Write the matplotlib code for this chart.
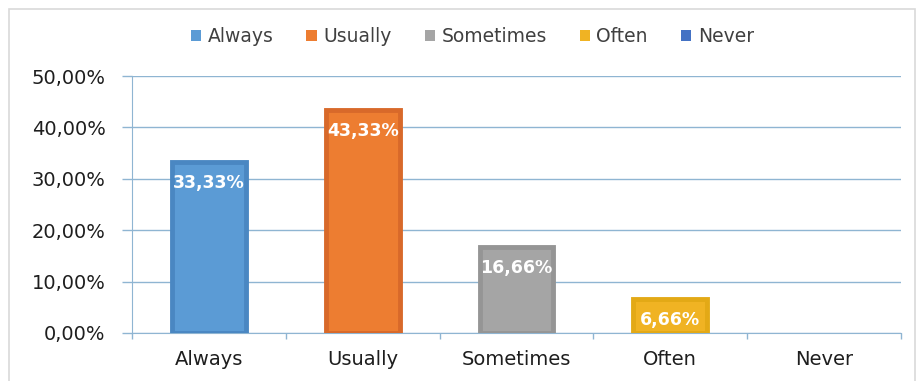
import matplotlib.pyplot as plt
from matplotlib.patches import Patch, Rectangle
from matplotlib.ticker import FixedLocator

# data
categories = ['Always', 'Usually', 'Sometimes', 'Often', 'Never']
values = [33.33, 43.33, 16.66, 6.66, 0.0]
labels = ['33,33%', '43,33%', '16,66%', '6,66%', '']
yticks = [0, 10, 20, 30, 40, 50]
ytick_labels = ['0,00%', '10,00%', '20,00%', '30,00%', '40,00%', '50,00%']

face_colors = ['#5b9bd5', '#ed7d31', '#a5a5a5', '#f0b323', '#4472c4']
edge_colors = ['#4a87c2', '#d8692a', '#959595', '#e3a916', '#3a62ad']
grid_color = '#8fb5d2'

plt.rcParams['font.family'] = ['DejaVu Sans']

fig = plt.figure(figsize=(9.19, 3.81), dpi=100)
ax = fig.add_axes([0.1436, 0.126, 0.9804 - 0.1436, 0.8005 - 0.126])

x = range(len(categories))
bars = ax.bar(x, values, width=0.48, color=face_colors, edgecolor=edge_colors,
              linewidth=3.5, zorder=3)

for b, v, lab in zip(bars, values, labels):
    if v == 0:
        b.set_linewidth(0)
    if lab:
        ax.text(b.get_x() + b.get_width() / 2, b.get_height() - 4.1, lab,
                ha='center', va='center', color='white', fontsize=12.5,
                fontweight='bold', zorder=4)

ax.set_xlim(-0.5, len(categories) - 0.5)
ax.set_ylim(0, 50)
ax.set_yticks(yticks)
ax.set_yticklabels(ytick_labels)
ax.set_xticks(list(x))
ax.set_xticklabels(categories)
ax.xaxis.set_minor_locator(FixedLocator([i - 0.5 for i in range(len(categories) + 1)]))

ax.tick_params(axis='y', length=7, width=1, color=grid_color, pad=12,
               labelsize=14, labelcolor='#1e1e1e')
ax.tick_params(axis='x', which='major', length=0, pad=12, labelsize=14,
               labelcolor='#1e1e1e')
ax.tick_params(axis='x', which='minor', length=4, width=1, color=grid_color)

ax.grid(axis='y', color=grid_color, linewidth=1, zorder=0)
for s in ['top', 'right']:
    ax.spines[s].set_visible(False)
ax.spines['left'].set_color(grid_color)
ax.spines['bottom'].set_color(grid_color)

handles = [Patch(facecolor=c, edgecolor='none') for c in face_colors]
fig.legend(handles, categories, loc='center', bbox_to_anchor=(0.514, 0.903),
           ncol=5, frameon=False, fontsize=13.5, handlelength=0.55,
           handleheight=0.55, handletextpad=0.35, columnspacing=1.75,
           labelcolor='#404040')

# light outer chart border
fig.patches.append(Rectangle((9 / 919, -0.01), (915 - 9) / 919, 1 - 9 / 381 + 0.01,
                             transform=fig.transFigure, fill=False,
                             edgecolor='#d9d9d9', linewidth=1.2))

fig.savefig('out.png', dpi=100)
